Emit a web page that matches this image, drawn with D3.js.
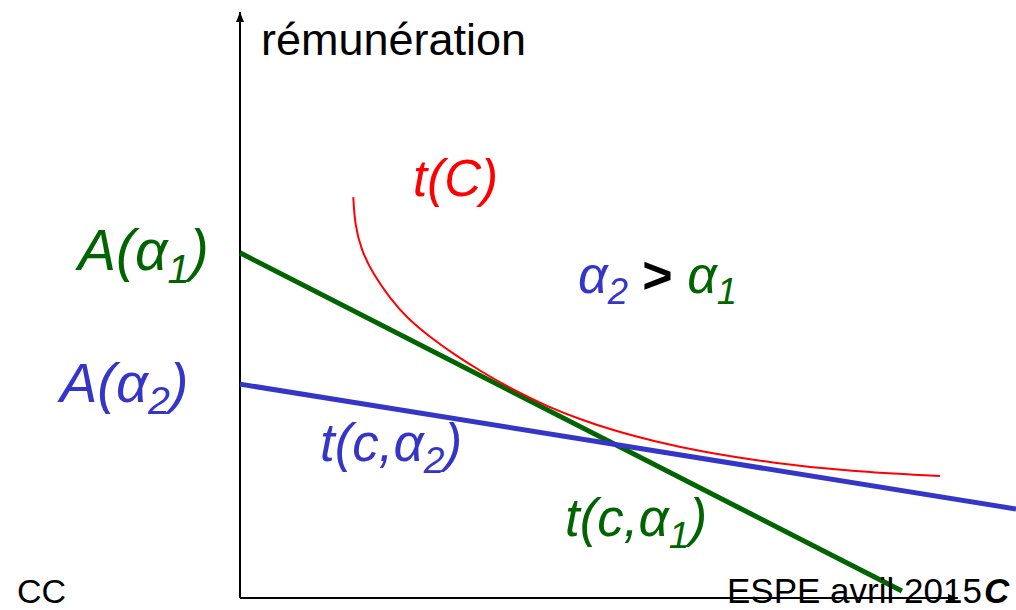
<!DOCTYPE html>
<html>
<head>
<meta charset="utf-8">
<script src="https://cdn.jsdelivr.net/npm/d3@7"></script>
<style>
  html, body { margin: 0; padding: 0; background: #fff; }
  svg { display: block; }
  text { font-family: "Liberation Sans", Arial, sans-serif; }
</style>
</head>
<body>
<svg id="chart" width="1016" height="610"></svg>
<script>
// ---- data (abstract units: C on x, rémunération on y) ----
const curveC = [1.46, 1.48, 1.56, 1.72, 1.93, 2.15, 2.45, 2.80, 3.09, 3.52, 3.96, 4.38, 4.81, 5.32, 5.93, 6.89, 7.86, 9.02];
const curveT = [6.84, 6.38, 5.94, 5.52, 5.12, 4.78, 4.45, 4.12, 3.88, 3.55, 3.27, 3.05, 2.86, 2.68, 2.50, 2.30, 2.16, 2.08];
const lineA1C = [0, 8.53];
const lineA1T = [5.89, 0.12];
const lineA2C = [0, 10];
const lineA2T = [3.65, 1.52];
const axisXMax = 9.25;
const axisYMax = 10.0;

const GREEN = "#006400", BLUE = "#3535c8", RED = "#ff0000";

const svg = d3.select("#chart");
const x = d3.scaleLinear().domain([0, 10]).range([240, 1016]);
const y = d3.scaleLinear().domain([0, 10]).range([598, 12]);

// arrow marker
svg.append("defs").append("marker")
  .attr("id", "arrow").attr("viewBox", "0 0 10 10")
  .attr("refX", 10).attr("refY", 5)
  .attr("markerWidth", 10).attr("markerHeight", 10)
  .attr("markerUnits", "userSpaceOnUse")
  .attr("orient", "auto")
  .append("path").attr("d", "M0,1 L10,5 L0,9 Z").attr("fill", "#000");

// axes
svg.append("line")
  .attr("x1", x(0)).attr("y1", y(0)).attr("x2", x(0)).attr("y2", y(axisYMax))
  .attr("stroke", "#000").attr("stroke-width", 2).attr("marker-end", "url(#arrow)");
svg.append("line")
  .attr("x1", x(0)).attr("y1", y(0)).attr("x2", x(axisXMax)).attr("y2", y(0))
  .attr("stroke", "#000").attr("stroke-width", 2).attr("marker-end", "url(#arrow)");

const line = d3.line().x(d => x(d[0])).y(d => y(d[1]));
const lineCurve = d3.line().x(d => x(d[0])).y(d => y(d[1])).curve(d3.curveBasis);

// straight lines
svg.append("path").datum(d3.zip(lineA1C, lineA1T)).attr("d", line)
  .attr("fill", "none").attr("stroke", GREEN).attr("stroke-width", 5);
svg.append("path").datum(d3.zip(lineA2C, lineA2T)).attr("d", line)
  .attr("fill", "none").attr("stroke", BLUE).attr("stroke-width", 5);
// red curve
svg.append("path").datum(d3.zip(curveC, curveT)).attr("d", lineCurve)
  .attr("fill", "none").attr("stroke", RED).attr("stroke-width", 2);

// helper for labels with subscripts
function label(px, py, size, parts, opts = {}) {
  const t = svg.append("text").attr("x", px).attr("y", py)
    .attr("font-size", size)
    .attr("font-style", opts.italic === false ? "normal" : "italic")
    .attr("font-weight", opts.weight || "normal");
  parts.forEach(p => {
    const ts = t.append("tspan").text(p.t).attr("fill", p.c || "#000");
    if (p.sub) ts.attr("font-size", size * 0.7).attr("dy", size * 0.22);
    if (p.unsub) ts.attr("dy", -size * 0.22);
    if (p.w) ts.attr("font-weight", p.w);
    if (p.s) ts.attr("font-style", p.s);
  });
  return t;
}

// axis title
svg.append("text").attr("x", 261).attr("y", 55).attr("font-size", 45).attr("fill", "#000").text("rémunération");

label(78, 270, 57, [{t: "A(α", c: GREEN}, {t: "1", c: GREEN, sub: true}, {t: ")", c: GREEN, unsub: true}]);
label(60, 402, 56, [{t: "A(α", c: BLUE}, {t: "2", c: BLUE, sub: true}, {t: ")", c: BLUE, unsub: true}]);
label(413, 196, 51, [{t: "t(C)", c: RED}]);
label(578, 293, 52, [{t: "α", c: BLUE}, {t: "2", c: BLUE, sub: true}, {t: "  >  ", c: "#000", unsub: true, s: "normal", w: "bold"}, {t: "α", c: GREEN}, {t: "1", c: GREEN, sub: true}]);
label(320, 461, 53, [{t: "t(c,α", c: BLUE}, {t: "2", c: BLUE, sub: true}, {t: ")", c: BLUE, unsub: true}]);
label(565, 536, 53, [{t: "t(c,α", c: GREEN}, {t: "1", c: GREEN, sub: true}, {t: ")", c: GREEN, unsub: true}]);

// footer texts
svg.append("text").attr("x", 17).attr("y", 603).attr("font-size", 34).attr("fill", "#000").text("CC");
svg.append("text").attr("x", 727).attr("y", 603).attr("font-size", 35).attr("fill", "#000").text("ESPE avril 2015");
svg.append("text").attr("x", 984).attr("y", 603).attr("font-size", 35).attr("font-style", "italic")
  .attr("font-weight", "bold").attr("fill", "#000").text("C");
</script>
</body>
</html>
